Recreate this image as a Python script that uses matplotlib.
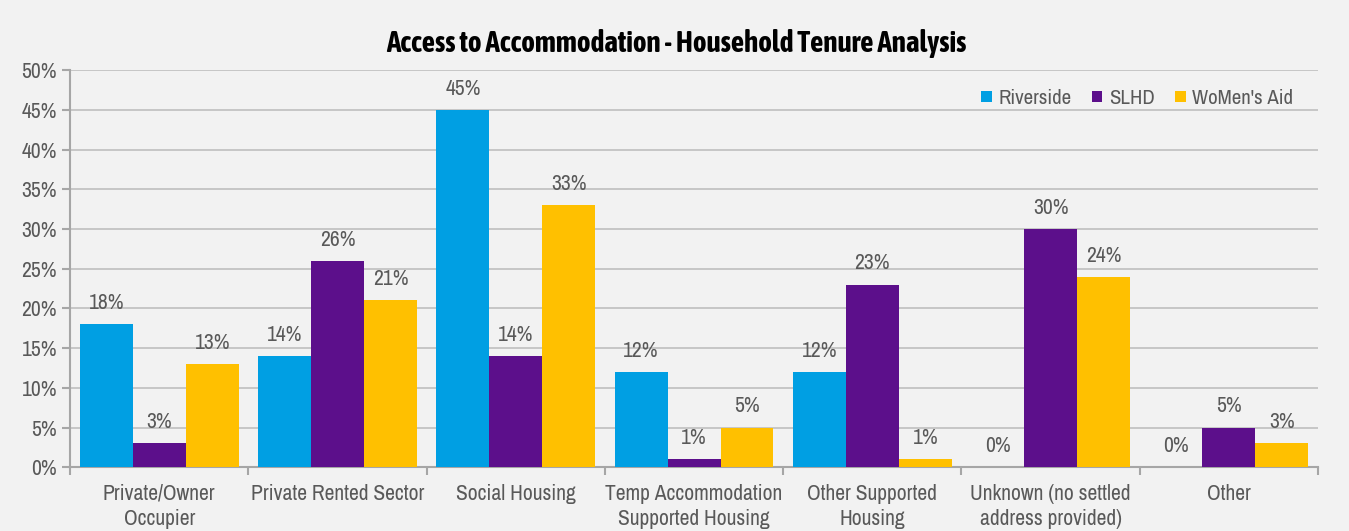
import matplotlib.pyplot as plt
from matplotlib import font_manager
import numpy as np

categories = ["Private/Owner\nOccupier", "Private Rented Sector", "Social Housing",
              "Temp Accommodation\nSupported Housing", "Other Supported\nHousing",
              "Unknown (no settled\naddress provided)", "Other"]
riverside = [18, 14, 45, 12, 12, 0, 0]
slhd = [3, 26, 14, 1, 23, 30, 5]
womens_aid = [13, 21, 33, 5, 1, 24, 3]

series = [("Riverside", riverside, "#009FE3"),
          ("SLHD", slhd, "#5C0F8B"),
          ("WoMen's Aid", womens_aid, "#FFC000")]

# look for a narrow font, like Arial Narrow in the original
fonts = font_manager.fontManager.ttflist
narrow = sorted({f.name for f in fonts if "Narrow" in f.name or "Condensed" in f.name})
def is_bold(f):
    w = f.weight if isinstance(f.weight, int) else font_manager.weight_dict.get(f.weight, 400)
    return w >= 600
narrow_bold = sorted({f.name for f in fonts if f.name in narrow and is_bold(f)})
plt.rcParams["font.family"] = narrow[:1] + ["Liberation Sans", "DejaVu Sans"]
title_family = narrow_bold[:1] + ["Liberation Sans", "DejaVu Sans"]
title_size = 21 if narrow_bold else 15

text_color = "#595959"
bg = "#F2F2F2"
fs = 15.5

fig = plt.figure(figsize=(13.49, 5.31), dpi=100, facecolor=bg)
ax = fig.add_axes([0.052, 0.12, 0.925, 0.748], facecolor=bg)

x = np.arange(len(categories))
width = 0.297
for i, (name, vals, color) in enumerate(series):
    pos = x + (i - 1) * width
    bars = ax.bar(pos, vals, width, color=color, label=name, zorder=3)
    for b, v in zip(bars, vals):
        ax.annotate(f"{v}%", (b.get_x() + b.get_width() / 2, v),
                    xytext=(0, 8), textcoords="offset points",
                    ha="center", va="bottom", fontsize=fs, color=text_color)

ax.set_xlim(-0.5, len(categories) - 0.5)
ax.set_ylim(0, 50)
ax.set_yticks(range(0, 51, 5))
ax.set_yticklabels([f"{t}%" for t in range(0, 51, 5)])
ax.yaxis.grid(True, color="#BFBFBF", linewidth=1.2, zorder=0)

ax.set_xticks(x)
ax.set_xticklabels(categories, linespacing=1.3)
ax.set_xticks(np.arange(-0.5, len(categories), 1), minor=True)
ax.tick_params(axis="x", which="major", length=0, pad=12, labelsize=fs, labelcolor=text_color)
ax.tick_params(axis="x", which="minor", length=6, width=1.5, color="#A6A6A6")
ax.tick_params(axis="y", length=6, width=1.5, color="#A6A6A6", labelsize=fs, labelcolor=text_color)

for s in ["top", "right"]:
    ax.spines[s].set_visible(False)
for s in ["left", "bottom"]:
    ax.spines[s].set_color("#A6A6A6")
    ax.spines[s].set_linewidth(1.5)

fig.suptitle("Access to Accommodation - Household Tenure Analysis", family=title_family,
             fontsize=title_size, fontweight="bold", color="black",
             x=0.501, y=0.919, va="center")

ax.legend(loc="upper right", bbox_to_anchor=(0.995, 1.0), ncol=3, frameon=False,
          fontsize=15, labelcolor=text_color, handlelength=0.5, handleheight=0.5,
          handletextpad=0.3, columnspacing=1.0)

fig.savefig("out.png", dpi=100, facecolor=bg)
